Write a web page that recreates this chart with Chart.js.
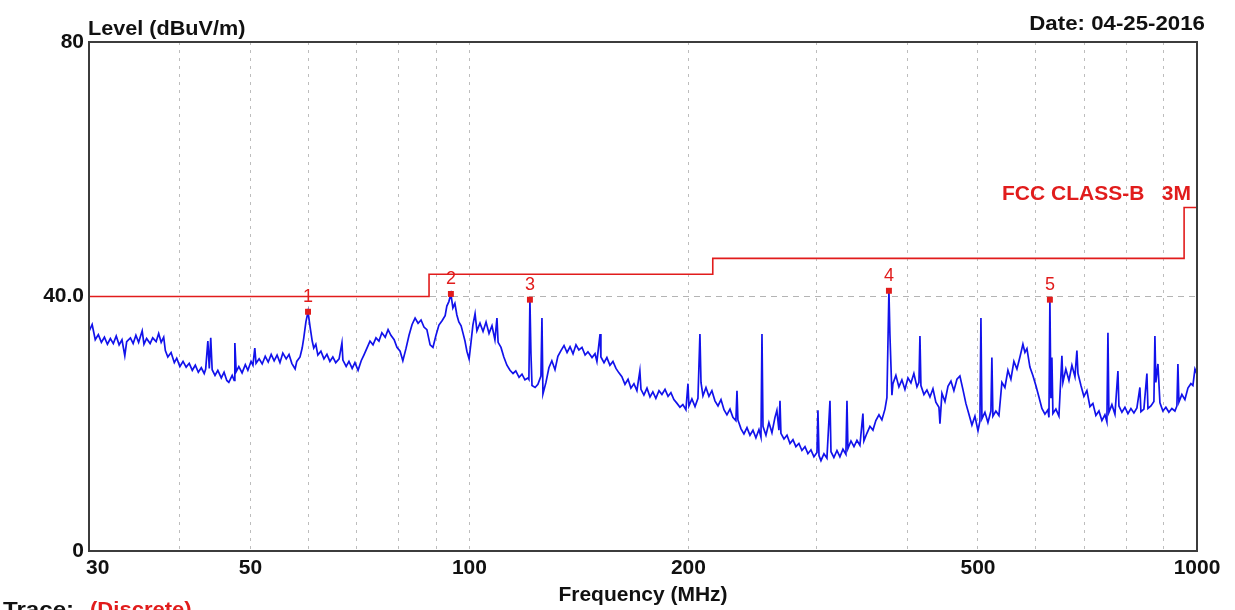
<!DOCTYPE html>
<html>
<head>
<meta charset="utf-8">
<title>Radiated emission scan</title>
<script src="https://cdn.jsdelivr.net/npm/chart.js@4.4.1/dist/chart.umd.min.js"></script>
<style>
    html, body { margin: 0; padding: 0; background: #fff; }
    #wrap { position: relative; width: 1235px; height: 610px; }
</style>
</head>
<body>
<div id="wrap"><canvas id="scan"></canvas></div>
<script>
/* ============================================
   Emission scan
   ============================================ */
const traceFreq = [
    30.0, 30.3, 30.6, 30.9, 31.2, 31.5, 31.8, 32.1, 32.4, 32.7, 33.0, 33.3, 33.6, 33.8, 34.2, 34.5, 34.8, 35.1,
    35.5, 35.7, 36.0, 36.4, 36.7, 37.1, 37.4, 37.7, 38.0, 38.2, 38.5, 38.9, 39.3, 39.6, 40.0,
    40.4, 40.8, 41.2, 41.6, 42.0, 42.4, 42.8, 43.2, 43.4, 43.7, 43.9, 44.1, 44.3, 44.7, 45.1, 45.6, 46.0, 46.4,
    46.7, 47.2, 47.5, 47.6, 47.8, 48.2, 48.7, 49.2, 49.6, 50.1, 50.4, 50.7, 50.9, 51.4, 51.9, 52.4, 52.9, 53.4,
    53.9, 54.4, 54.9, 55.4, 56.0, 56.5, 57.0, 57.6, 57.9, 58.5, 58.9, 59.2, 59.6, 60.0, 60.4, 60.8, 61.1, 61.5,
    61.9, 62.5, 63.1, 63.7, 64.3, 64.9, 65.5, 66.2, 66.8, 67.0, 67.7, 68.3, 69.0, 69.6, 70.3, 71.0, 71.6, 72.3,
    73.0, 73.7, 74.4,
    75.1, 75.8, 76.6, 77.3, 78.0, 78.8, 79.5, 80.3, 81.0, 81.8, 82.6, 83.4, 84.2, 85.0, 85.8, 86.6, 87.4, 88.3,
    89.1, 89.9, 90.8, 91.7, 92.6, 93.1, 93.7, 94.3, 94.9, 95.5, 96.1, 96.7, 97.4, 98.0, 98.6, 99.2, 99.9,
    100.5, 101.1, 101.8, 102.4, 103.4, 104.4, 105.4, 106.4, 107.4, 108.4, 109.1, 109.5, 110.5, 111.5, 112.6,
    113.7, 114.8, 115.8, 117.0, 118.1, 119.2, 120.4, 120.7, 121.1, 121.5, 121.9, 123.1, 124.2, 125.4, 125.8,
    126.2, 127.4, 128.6, 129.8, 131.1, 132.3, 133.6, 134.9, 136.2, 137.5, 138.8, 140.1, 141.4, 142.8, 144.2,
    145.5, 147.4, 148.8, 149.7, 151.2, 151.6, 153.1, 154.5, 156.0, 157.5, 159.0, 160.5, 162.0, 163.6, 165.2,
    166.7, 168.3, 169.9, 171.5, 172.1, 173.7, 175.4, 177.1, 178.7, 180.4, 182.2, 183.9, 185.7, 187.5, 189.2,
    191.0, 192.9, 194.7, 196.5, 198.4, 199.7, 200.3, 202.2, 204.2, 206.1, 207.4, 208.1, 209.4, 211.4, 213.4,
    215.4, 217.5, 219.6, 221.7, 223.8, 225.9, 228.1, 230.2, 232.4, 233.2, 233.9, 236.2, 238.4, 240.7, 243.0,
    245.3, 247.6, 250.0, 251.6, 252.4, 253.2, 255.6, 258.0, 260.5, 263.0, 264.6, 266.3, 267.2, 268.0, 270.6,
    273.2, 275.8, 278.4, 281.0, 283.7, 286.4, 289.2, 291.9, 294.7, 297.5, 300.4, 301.3, 302.3, 304.2, 307.1,
    310.0, 313.0, 314.0, 316.9, 320.0, 323.0, 326.1, 329.2, 330.3, 331.3, 334.5, 337.7, 340.9, 344.1, 347.4,
    348.5, 351.8, 355.2, 358.6, 361.9, 365.5, 368.9, 372.5, 374.8, 377.2, 378.4, 380.8, 382.0, 385.6, 389.3,
    393.0, 396.8, 400.6, 404.4, 408.2, 412.2, 414.8, 416.1, 417.4, 421.4, 425.4, 429.5, 433.6, 437.6, 441.9,
    443.3, 446.1, 450.4, 454.7, 459.0, 463.3, 467.8, 472.2, 476.7, 481.2, 485.9, 490.5, 495.2, 500.0, 503.1,
    504.7, 506.3, 511.1, 516.0, 520.9, 522.5, 524.2, 529.1, 534.3, 539.3, 544.5, 549.7, 554.9, 560.2, 565.6,
    571.0, 576.4, 580.1, 583.8, 589.3, 594.9, 600.5, 606.4, 612.1, 618.0, 623.9, 625.9, 627.8, 629.8, 631.8,
    633.8, 639.8, 646.0, 652.1, 654.2, 660.3, 666.8, 673.1, 679.6, 683.8, 686.1, 692.6, 699.1, 705.8, 712.6,
    719.3, 726.1, 733.2, 740.1, 747.2, 751.9, 754.4, 756.7, 763.9, 771.3, 778.6, 781.1, 788.5, 796.1, 803.7,
    811.3, 819.0, 826.8, 834.7, 837.4, 845.3, 853.4, 856.2, 864.3, 872.5, 875.3, 877.9, 883.7, 889.3, 897.7,
    906.2, 914.9, 923.6, 932.5, 938.4, 941.4, 944.4, 953.3, 962.5, 971.7, 980.9, 987.1, 993.5, 1000
];
const traceLevel = [
    34.5, 35.6, 33.2, 34.0, 32.8, 33.6, 32.5, 33.4, 32.6, 33.8, 32.4, 33.2, 30.7, 32.9, 33.5, 32.6, 33.9, 32.8,
    34.6, 32.5, 33.4, 32.6, 33.5, 32.9, 34.2, 32.8, 33.6, 31.5, 30.5, 31.2, 29.6, 30.3, 29.0,
    29.8, 28.9, 29.5, 28.4, 29.2, 28.1, 28.8, 27.9, 28.6, 33.0, 28.7, 33.5, 28.5, 27.6, 28.4, 27.2, 28.1, 26.8,
    26.5, 27.6, 26.8, 32.7, 28.2, 29.0, 28.0, 29.3, 28.4, 29.8, 29.2, 31.9, 29.5, 30.2, 29.4, 30.6, 29.7, 30.9,
    29.9, 30.8, 29.6, 31.1, 30.2, 30.9, 29.5, 28.6, 29.8, 30.5, 31.9, 33.5, 36.0, 37.6, 35.2, 33.0, 31.9, 32.5,
    30.8, 31.4, 30.2, 30.9, 29.8, 30.5, 29.6, 30.2, 32.7, 30.0, 29.0, 29.8, 28.7, 29.6, 28.4, 29.9, 30.8, 31.9,
    33.0, 32.4, 33.5,
    33.0, 34.3, 33.6, 34.8, 33.9, 33.2, 32.0, 31.4, 29.9, 31.8, 33.9, 35.6, 36.6, 35.8, 36.3, 35.2, 34.8, 32.4,
    32.0, 33.8, 35.5, 36.2, 37.0, 38.5, 39.2, 40.4, 38.2, 38.9, 37.1, 36.0, 35.4, 34.2, 33.0, 31.4, 30.2,
    32.8, 35.5, 37.3, 34.6, 35.8, 34.5, 36.0, 34.2, 35.4, 33.2, 36.6, 32.8, 32.0, 30.5, 29.2,
    28.4, 27.9, 28.3, 27.3, 27.8, 26.9, 27.2, 27.0, 39.5, 31.0, 26.0, 25.7, 26.2, 27.5, 36.6,
    24.7, 26.5, 28.8, 29.9, 28.5, 30.6, 31.5, 32.3, 31.2, 32.1, 31.0, 32.4, 31.6, 32.0, 30.8,
    31.3, 30.4, 31.0, 29.8, 34.1, 30.5, 29.6, 30.4, 29.2, 29.8, 28.7, 28.0, 27.4, 26.2, 27.0,
    25.6, 26.3, 25.2, 28.3, 25.4, 24.5, 25.6, 24.2, 25.0, 24.0, 25.2, 24.6, 25.4, 24.3, 24.9,
    23.8, 23.2, 22.6, 23.0, 22.2, 26.3, 22.8, 23.9, 22.7, 24.0, 34.1, 26.5, 24.4, 25.7, 24.3,
    25.2, 23.6, 22.8, 23.8, 22.2, 21.4, 22.3, 21.0, 20.5, 25.2, 20.6, 19.2, 18.4, 19.4, 18.2,
    19.0, 17.8, 19.1, 17.9, 34.1, 19.6, 18.2, 20.2, 18.6, 21.0, 22.1, 19.0, 23.6, 18.5, 17.6,
    18.2, 16.9, 17.5, 16.4, 16.9, 15.8, 16.4, 15.3, 15.9, 14.8, 15.5, 22.1, 15.0, 14.2, 15.3,
    14.6, 23.6, 15.6, 14.7, 15.8, 14.8, 16.0, 15.2, 23.6, 16.1, 17.3, 16.4, 17.4, 16.6, 21.6,
    17.3, 18.5, 19.6, 19.0, 20.5, 21.4, 20.6, 22.3, 24.1, 40.9, 34.0, 24.5, 26.3, 27.6, 25.8,
    26.9, 25.4, 27.2, 26.4, 27.9, 25.8, 26.5, 33.8, 26.0, 24.6, 25.3, 24.2, 25.5, 23.4, 22.6,
    20.0, 24.8, 23.5, 25.9, 26.7, 25.2, 27.0, 27.5, 25.4, 23.2, 21.5, 19.8, 21.2, 18.9, 20.4,
    36.6, 20.8, 21.8, 20.2, 22.0, 30.4, 21.2, 22.0, 21.3, 26.5, 25.7, 28.4, 27.0, 29.8, 28.6,
    30.5, 32.5, 31.2, 31.8, 28.9, 27.6, 26.0, 24.2, 22.4, 21.5, 22.2, 21.0, 39.5, 24.0, 30.4,
    21.6, 22.3, 21.2, 30.7, 26.5, 28.6, 26.8, 29.2, 27.4, 31.5, 27.9, 26.0, 24.3, 25.2, 22.7,
    23.2, 21.3, 22.0, 20.5, 21.4, 20.3, 34.3, 21.8, 23.0, 21.5, 28.3, 22.8, 21.8, 22.6, 21.6,
    22.4, 21.7, 22.5, 25.7, 21.9, 22.3, 27.9, 22.4, 22.8, 23.5, 33.8, 26.5, 29.4, 23.3, 22.0,
    22.6, 21.8, 22.4, 22.0, 22.8, 29.4, 23.4, 24.6, 23.8, 25.6, 26.3, 26.0, 28.6, 27.8
];

// FCC Class B, 3 m limit (stepped)
const limitFreq = [30, 88, 88, 216, 216, 960, 960, 1000];
const limitLevel = [40, 40, 43.5, 43.5, 46, 46, 54, 54];

const markerNo = ['1', '2', '3', '4', '5'];
const markerFreq = [60.0, 94.3, 121.1, 377.2, 627.8];
const markerLevel = [37.6, 40.4, 39.5, 40.9, 39.5];

const xGridValues = [30, 40, 50, 60, 70, 80, 90, 100, 200, 300, 400, 500, 600, 700, 800, 900, 1000];
const xLabelValues = [30, 50, 100, 200, 500, 1000];
const yTickValues = [0, 40, 80];
const yTickLabels = ['0', '40.0', '80'];

const RED = 'rgb(225, 28, 28)';
const BLUE = 'rgb(18, 18, 235)';
const FONT = '"Liberation Sans", Arial, Helvetica, sans-serif';

const toPoints = (xs, ys) => xs.map((x, i) => ({ x: x, y: ys[i] }));

Chart.defaults.font.family = FONT;
Chart.defaults.color = '#111';

// text drawn slightly widened, like the original plot software output
function wideText(ctx, text, x, y, sx) {
    ctx.save();
    ctx.translate(x, y);
    ctx.scale(sx, 1);
    ctx.fillText(text, 0, 0);
    ctx.restore();
}

const overlay = {
    id: 'overlay',
    afterDatasetsDraw(chart) {
        const { ctx, chartArea: a } = chart;
        ctx.save();

        // plot frame
        ctx.strokeStyle = '#3c3c3c';
        ctx.lineWidth = 2;
        ctx.strokeRect(a.left, a.top, a.right - a.left, a.bottom - a.top);

        // marker numbers
        ctx.font = '18px ' + FONT;
        ctx.fillStyle = RED;
        ctx.textAlign = 'center';
        ctx.textBaseline = 'middle';
        chart.getDatasetMeta(2).data.forEach((pt, i) => {
            ctx.fillText(markerNo[i], pt.x, pt.y - 15);
        });

        ctx.textBaseline = 'alphabetic';
        ctx.font = 'bold 21px ' + FONT;

        ctx.fillStyle = '#111';
        ctx.textAlign = 'left';
        wideText(ctx, 'Level (dBuV/m)', a.left - 1, 35, 1.03);
        ctx.textAlign = 'right';
        wideText(ctx, 'Date: 04-25-2016', 1205, 30, 1.06);

        ctx.fillStyle = RED;
        ctx.fillText('FCC CLASS-B   3M', 1191, 200);

        ctx.textAlign = 'left';
        ctx.fillStyle = '#111';
        wideText(ctx, 'Trace:', 3, 616, 1.15);
        ctx.fillStyle = RED;
        wideText(ctx, '(Discrete)', 90, 616, 1.05);

        ctx.restore();
    }
};

new Chart(document.getElementById('scan'), {
    type: 'line',
    data: {
        datasets: [
            {
                label: 'Level',
                data: toPoints(traceFreq, traceLevel),
                borderColor: BLUE,
                borderWidth: 1.7,
                pointRadius: 0,
                tension: 0,
                order: 1
            },
            {
                label: 'FCC CLASS-B 3M',
                data: toPoints(limitFreq, limitLevel),
                borderColor: RED,
                borderWidth: 1.6,
                pointRadius: 0,
                tension: 0,
                order: 2
            },
            {
                label: 'Markers',
                data: toPoints(markerFreq, markerLevel),
                showLine: false,
                pointStyle: 'rect',
                pointRadius: 4.2,
                pointBackgroundColor: RED,
                pointBorderColor: RED,
                pointBorderWidth: 0,
                order: 0
            }
        ]
    },
    options: {
        responsive: true,
        maintainAspectRatio: false,
        animation: false,
        layout: { padding: { top: 42, right: 38, left: 0, bottom: 0 } },
        plugins: {
            legend: { display: false },
            tooltip: { enabled: false }
        },
        scales: {
            x: {
                type: 'logarithmic',
                min: 30,
                max: 1000,
                afterBuildTicks: (s) => { s.ticks = xGridValues.map(v => ({ value: v })); },
                afterFit: (s) => { s.height = 59; },
                ticks: {
                    autoSkip: false,
                    maxRotation: 0,
                    minRotation: 0,
                    padding: 5,
                    color: '#111',
                    font: { size: 21, weight: 'bold' },
                    callback: (v) => xLabelValues.includes(v) ? (v === 30 ? '   ' : '') + v : ''
                },
                grid: {
                    drawTicks: false,
                    lineWidth: 1,
                    color: (c) => (c.tick && (c.tick.value === 30 || c.tick.value === 1000)) ? 'rgba(0,0,0,0)' : '#bdbdbd'
                },
                border: { display: false, dash: [3, 5] },
                title: {
                    display: true,
                    text: 'Frequency (MHz)',
                    color: '#111',
                    font: { size: 21, weight: 'bold' },
                    padding: { top: 0, bottom: 2 }
                }
            },
            y: {
                type: 'linear',
                min: 0,
                max: 80,
                afterBuildTicks: (s) => { s.ticks = yTickValues.map(v => ({ value: v })); },
                afterFit: (s) => { s.width = 89; },
                ticks: {
                    padding: 5,
                    color: '#111',
                    font: { size: 21, weight: 'bold' },
                    callback: (v, i) => yTickLabels[i]
                },
                grid: {
                    drawTicks: false,
                    lineWidth: 1,
                    color: (c) => (c.tick && c.tick.value === 40) ? '#b4b4b4' : 'rgba(0,0,0,0)'
                },
                border: { display: false, dash: [6, 5] }
            }
        }
    },
    plugins: [overlay]
});
</script>
</body>
</html>
